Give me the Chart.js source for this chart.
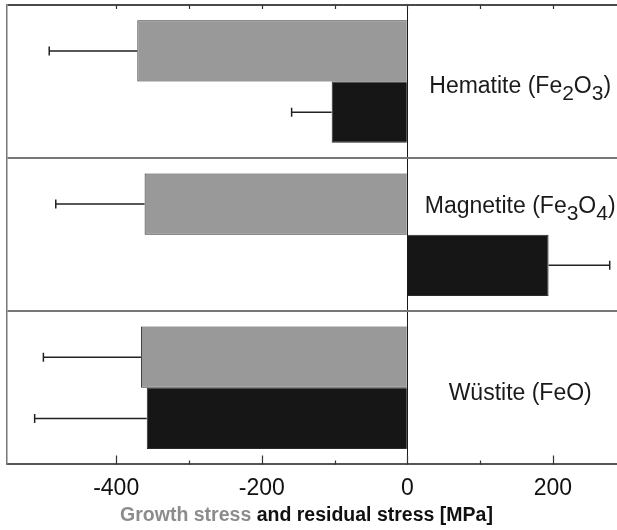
<!DOCTYPE html>
<html>
<head>
<meta charset="utf-8">
<title>Growth and residual stress in oxide scales</title>
<script src="https://cdn.jsdelivr.net/npm/chart.js@4.4.1/dist/chart.umd.min.js"></script>
<style>
  html, body { margin: 0; padding: 0; background: #fff; }
  canvas { display: block; }
</style>
</head>
<body>
<canvas id="stressChart" width="617" height="530"></canvas>
<script>
// Oxide layers; digits inside the formulas are drawn as subscripts
const oxides = ['Hematite (Fe2O3)', 'Magnetite (Fe3O4)', 'Wüstite (FeO)'];

// Stresses in MPa, with their error bars
const growthStress = [-371, -361, -366];
const growthError = [121, 122, 134];
const residualStress = [-104, 194, -358];
const residualError = [55, 84, 154];

// Stress axis
const stressMin = -550;
const stressMax = 288;
const labelledTicks = [-400, -200, 0, 200];

const FONT = '"Liberation Sans", Arial, Helvetica, sans-serif';

// Error bars pointing away from zero
const errorBars = {
    id: 'errorBars',
    afterDatasetsDraw(chart, args, opts) {
        const ctx = chart.ctx;
        const xs = chart.scales.x;
        chart.data.datasets.forEach((ds, i) => {
            chart.getDatasetMeta(i).data.forEach((bar, j) => {
                const v = ds.data[j];
                const x0 = xs.getPixelForValue(v);
                const x1 = xs.getPixelForValue(v + Math.sign(v) * ds.errors[j]);
                ctx.save();
                ctx.strokeStyle = opts.color;
                ctx.lineWidth = opts.width;
                ctx.beginPath();
                ctx.moveTo(x0, bar.y);
                ctx.lineTo(x1, bar.y);
                ctx.moveTo(x1, bar.y - opts.cap / 2);
                ctx.lineTo(x1, bar.y + opts.cap / 2);
                ctx.stroke();
                ctx.restore();
            });
        });
    }
};

// Inward tick marks on the top and bottom edges
const innerTicks = {
    id: 'innerTicks',
    afterDraw(chart, args, opts) {
        const ctx = chart.ctx;
        const xs = chart.scales.x;
        const area = chart.chartArea;
        ctx.save();
        ctx.strokeStyle = opts.color;
        ctx.lineWidth = opts.width;
        ctx.beginPath();
        xs.ticks.forEach(t => {
            if (t.value % 100 !== 0) return;
            const major = labelledTicks.includes(t.value);
            const x = Math.round(xs.getPixelForValue(t.value)) + 0.5;
            ctx.moveTo(x, area.bottom);
            ctx.lineTo(x, area.bottom - (major ? opts.bottomMajor : opts.bottomMinor));
            ctx.moveTo(x, area.top);
            ctx.lineTo(x, area.top + opts.top);
        });
        ctx.stroke();
        ctx.restore();
    }
};

// Oxide names beside the bars, with subscripted formula digits
const oxideLabels = {
    id: 'oxideLabels',
    afterDatasetsDraw(chart, args, opts) {
        const ctx = chart.ctx;
        const xs = chart.scales.x;
        const ys = chart.scales.y;
        const main = opts.size + 'px ' + FONT;
        const sub = opts.subSize + 'px ' + FONT;
        ctx.save();
        ctx.fillStyle = opts.color;
        ctx.textBaseline = 'alphabetic';
        ctx.textAlign = 'left';
        chart.data.labels.forEach((label, i) => {
            const parts = label.split(/(\d+)/).filter(p => p.length);
            let width = 0;
            parts.forEach(p => {
                ctx.font = /^\d+$/.test(p) ? sub : main;
                width += ctx.measureText(p).width;
            });
            let x = xs.getPixelForValue(opts.centre) - width / 2;
            const y = ys.getPixelForValue(i) + opts.dy[i];
            parts.forEach(p => {
                const isSub = /^\d+$/.test(p);
                ctx.font = isSub ? sub : main;
                ctx.fillText(p, x, isSub ? y + opts.subDrop : y);
                x += ctx.measureText(p).width;
            });
        });
        ctx.restore();
    }
};

// Axis title in two colours: growth part in grey, the rest in black
const stressTitle = {
    id: 'stressTitle',
    afterDraw(chart, args, opts) {
        const ctx = chart.ctx;
        ctx.save();
        ctx.font = 'bold ' + opts.size + 'px ' + FONT;
        ctx.textBaseline = 'alphabetic';
        ctx.textAlign = 'left';
        const w1 = ctx.measureText(opts.first).width;
        const w2 = ctx.measureText(opts.second).width;
        let x = chart.width / 2 - (w1 + w2) / 2 - 2;
        ctx.fillStyle = opts.firstColor;
        ctx.fillText(opts.first, x, opts.y);
        ctx.fillStyle = opts.secondColor;
        ctx.fillText(opts.second, x + w1, opts.y);
        ctx.restore();
    }
};

const ctx = document.getElementById('stressChart').getContext('2d');
new Chart(ctx, {
    type: 'bar',
    data: {
        labels: oxides,
        datasets: [{
            label: 'Growth stress',
            data: growthStress,
            errors: growthError,
            backgroundColor: '#999999',
            borderColor: '#303030',
            borderWidth: 1
        }, {
            label: 'Residual stress',
            data: residualStress,
            errors: residualError,
            backgroundColor: '#161616',
            borderColor: '#2a2a2a',
            borderWidth: 1
        }]
    },
    plugins: [errorBars, innerTicks, oxideLabels, stressTitle],
    options: {
        indexAxis: 'y',
        responsive: false,
        animation: false,
        categoryPercentage: 0.8,
        barPercentage: 1.0,
        layout: { padding: { left: 7, top: 5, right: 0, bottom: 18 } },
        plugins: {
            legend: { display: false },
            tooltip: { enabled: false },
            errorBars: { color: '#222', width: 1.5, cap: 9 },
            innerTicks: { color: '#333', width: 1.2, top: 4, bottomMajor: 9, bottomMinor: 4 },
            oxideLabels: {
                color: '#1a1a1a', size: 23, subSize: 21, subDrop: 7,
                centre: 155, dy: [11, -22, 12]
            },
            stressTitle: {
                first: 'Growth stress', second: ' and residual stress [MPa]',
                firstColor: '#8c8c8c', secondColor: '#111', size: 19.5, y: 521
            }
        },
        scales: {
            x: {
                type: 'linear',
                min: stressMin,
                max: stressMax,
                afterBuildTicks: axis => {
                    axis.ticks = axis.ticks.filter(t => t.value % 100 === 0);
                },
                ticks: {
                    stepSize: 100,
                    autoSkip: false,
                    maxRotation: 0,
                    padding: 10,
                    color: '#111',
                    font: { family: FONT, size: 23 },
                    callback: v => labelledTicks.includes(v) ? String(v) : ''
                },
                grid: {
                    drawTicks: false,
                    color: c => (c.tick && c.tick.value === 0) ? '#1a1a1a' : 'rgba(0,0,0,0)',
                    lineWidth: 1
                },
                border: { color: '#555', width: 2 }
            },
            y: {
                ticks: { display: false },
                grid: {
                    offset: true,
                    drawTicks: false,
                    color: c => (c.index === 0) ? '#4a4a4a' : '#777',
                    lineWidth: 2
                },
                border: { color: '#777', width: 1.5 }
            }
        }
    }
});
</script>
</body>
</html>
